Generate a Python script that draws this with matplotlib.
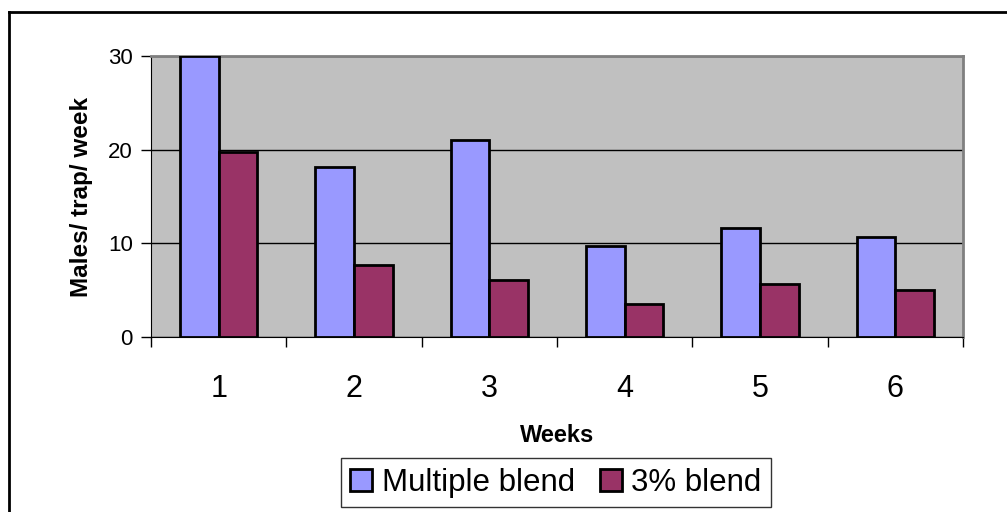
import matplotlib.pyplot as plt
import numpy as np
from matplotlib.lines import Line2D

weeks = ["1", "2", "3", "4", "5", "6"]
multiple_blend = [30.0, 18.2, 21.0, 9.7, 11.6, 10.7]
blend_3pct = [19.8, 7.7, 6.1, 3.5, 5.7, 5.0]

plt.rcParams["font.family"] = ["Liberation Sans", "DejaVu Sans"]

fig = plt.figure(figsize=(10.07, 5.12), dpi=100)
ax = fig.add_axes([0.15, 0.3418, 0.8063, 0.5488])

x = np.arange(len(weeks))
width = 0.285
ax.set_facecolor("#c0c0c0")
ax.bar(x - width / 2, multiple_blend, width=width, color="#9999ff",
       edgecolor="black", linewidth=2.0, label="Multiple blend", zorder=3)
ax.bar(x + width / 2, blend_3pct, width=width, color="#993366",
       edgecolor="black", linewidth=2.0, label="3% blend", zorder=3)

ax.set_xlim(-0.5, len(weeks) - 0.5)
ax.set_ylim(0, 30)
ax.set_yticks([0, 10, 20, 30])
ax.yaxis.grid(True, color="black", linewidth=1.0, zorder=1)
ax.set_axisbelow(True)

# category labels centred, ticks on boundaries
ax.set_xticks(x)
ax.set_xticklabels(weeks, fontsize=22)
ax.tick_params(axis="x", which="major", length=0, pad=27)
ax.set_xticks(np.arange(len(weeks) + 1) - 0.5, minor=True)
ax.tick_params(axis="x", which="minor", length=7, width=1, direction="out")
ax.tick_params(axis="y", labelsize=16, length=7, width=1, direction="out", pad=6)

for side in ("top", "right"):
    ax.spines[side].set_color("#808080")
    ax.spines[side].set_linewidth(2)
ax.spines["left"].set_color("black")
ax.spines["bottom"].set_color("black")

ax.set_xlabel("Weeks", fontsize=17, fontweight="bold", labelpad=14)
ax.set_ylabel("Males/ trap/ week", fontsize=17.5, fontweight="bold", labelpad=11)

leg = fig.legend(loc="center", bbox_to_anchor=(0.552, 0.057), ncol=2,
                 fontsize=22.5, frameon=True, fancybox=False, edgecolor="black",
                 handlelength=0.7, handleheight=0.7, handletextpad=0.3,
                 columnspacing=0.8, borderpad=0.3)
leg.get_frame().set_linewidth(1.0)

# chart-area border (top and left visible)
fig.add_artist(Line2D([0.009, 1.0], [0.977, 0.977], color="black", linewidth=2))
fig.add_artist(Line2D([0.009, 0.009], [0.0, 0.977], color="black", linewidth=2))

fig.savefig("out.png", dpi=100)
